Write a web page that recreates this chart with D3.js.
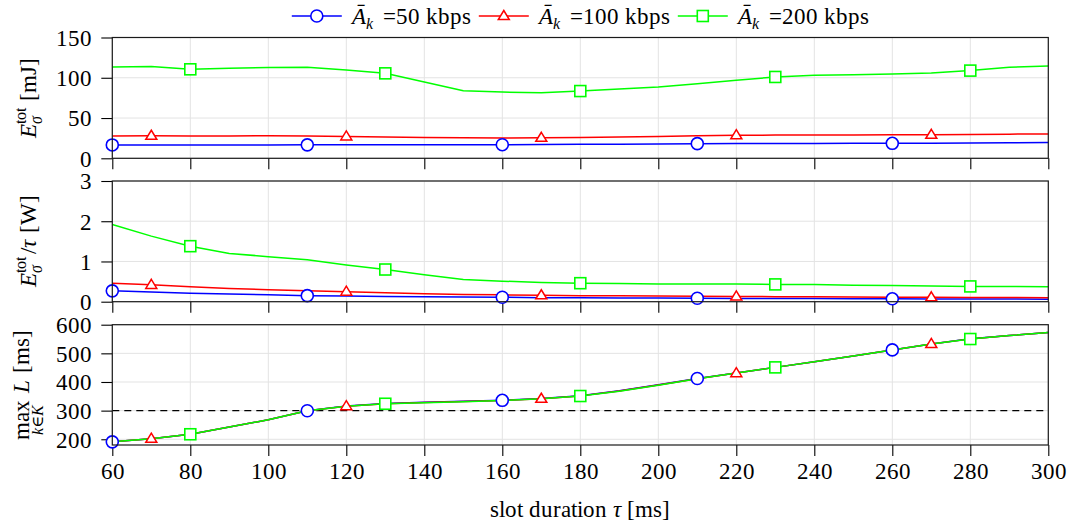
<!DOCTYPE html>
<html><head><meta charset="utf-8">
<script src="https://cdn.jsdelivr.net/npm/d3@7"></script>
<style>
@font-face{font-family:"ChartSerif";font-style:normal;font-weight:400;src:local("Liberation Serif"),local("LiberationSerif"),local("Liberation Serif Regular"),local("LiberationSerif-Regular");}
@font-face{font-family:"ChartSerif";font-style:italic;font-weight:400;src:local("Liberation Serif Italic"),local("LiberationSerif-Italic");}
</style>
</head><body style="margin:0">
<svg id="c" width="1072" height="525"></svg>
<script>
// ---------- data ----------
const tau = [60,70,80,90,100,110,120,130,140,150,160,170,180,190,200,210,220,230,240,250,260,270,280,290,300];
const xTicks = [60,80,100,120,140,160,180,200,220,240,260,280,300];

const energy50  = [16.6,16.6,16.6,16.6,16.6,16.7,16.7,16.8,16.8,16.9,16.9,17.1,17.3,17.6,17.9,18.2,18.3,18.4,18.5,18.6,18.6,18.8,19.0,19.2,19.5];
const energy100 = [27.8,28.0,27.8,27.8,27.9,27.6,27.2,26.5,25.8,25.4,25.3,25.5,25.8,26.5,27.2,28.0,28.7,28.8,28.9,29.0,29.1,29.2,29.6,30.0,30.3];
const energy200 = [113.5,114.0,110.5,111.8,112.6,113.0,109.7,105.5,94.8,83.9,82.3,81.4,83.5,86.0,88.5,92.6,96.8,101.0,103.0,103.9,104.7,106.0,108.9,113.0,114.7];

const power50  = [0.27,0.24,0.21,0.19,0.17,0.15,0.14,0.13,0.12,0.115,0.11,0.10,0.097,0.093,0.09,0.085,0.082,0.08,0.077,0.074,0.072,0.07,0.068,0.066,0.064];
const power100 = [0.46,0.42,0.37,0.33,0.30,0.27,0.25,0.22,0.20,0.18,0.17,0.16,0.15,0.145,0.14,0.135,0.13,0.125,0.12,0.117,0.113,0.11,0.107,0.104,0.10];
const power200 = [1.92,1.63,1.38,1.20,1.12,1.04,0.91,0.80,0.67,0.55,0.51,0.48,0.46,0.45,0.44,0.44,0.44,0.43,0.43,0.41,0.40,0.39,0.38,0.38,0.37];

const latency50  = [191,202,217.5,243,268,299.5,316,325,329,333,336,342,352,369,390,412,431,451,471,491,512,533,551,562,573];
const latency100 = [191,202,217.5,243,268,299.5,315.6,324,328,332,335.5,341.5,351.5,368.5,389.5,411.5,431,451,471,490.7,511.7,532.7,550.5,562,572.6];
const latency200 = [191,202,217.5,243,268,299.5,315.6,324,327.5,331,335.5,341.5,351,368,389,411.5,431,451,471,490.7,511.7,532.7,550,562,572.6];
const latencyTarget = 300;

const markerTau50  = [60,110,160,210,260];
const markerTau100 = [70,120,170,220,270];
const markerTau200 = [80,130,180,230,280];

const rateLabels = ["=50 kbps","=100 kbps","=200 kbps"];
const yTicksEnergy  = [0,50,100,150];
const yTicksPower   = [0,1,2,3];
const yTicksLatency = [200,300,400,500,600];

// ---------- layout ----------
const FONT = '"ChartSerif","Liberation Serif","Nimbus Roman","Times New Roman","DejaVu Serif",serif';
const svg = d3.select("#c");
const FS = 23, SFS = 16;
const x = d3.scaleLinear().domain([60,300]).range([112.3,1048.3]);
const panels = [
  {top:37.5, bottom:158.3, domain:[0,150], ticks:yTicksEnergy, data:[energy50,energy100,energy200], label:'energy'},
  {top:181,  bottom:301.7, domain:[0,3],   ticks:yTicksPower,  data:[power50,power100,power200], label:'power'},
  {top:324.7,bottom:445,   domain:[180,600],ticks:yTicksLatency,data:[latency50,latency100,latency200], label:'latency'}
];
const colors = ["#0000ff","#ff0000","#00ff00"];
const shapes = ["circle","triangle","square"];
const markerTaus = [markerTau50, markerTau100, markerTau200];

function setFont(sel){ return sel.attr("font-family",FONT).style("font-family",FONT); }

function drawMarker(g, shape, color, cx, cy){
  if(shape==="circle"){
    g.append("circle").attr("cx",cx).attr("cy",cy).attr("r",6)
      .attr("fill","#fff").attr("stroke",color).attr("stroke-width",1.6);
  } else if(shape==="square"){
    g.append("rect").attr("x",cx-5.5).attr("y",cy-5.5).attr("width",11).attr("height",11)
      .attr("fill","#fff").attr("stroke",color).attr("stroke-width",1.6);
  } else {
    const s=5.5;
    g.append("path").attr("d",`M${cx},${cy-s}L${cx+s},${cy+s*0.65}L${cx-s},${cy+s*0.65}Z`)
      .attr("fill","#fff").attr("stroke",color).attr("stroke-width",1.5);
  }
}

function mathText(parent, groups){
  const g = parent.append("g");
  let cursor = 0;
  groups.forEach(grp=>{
    if(grp.gap!==undefined){ cursor += grp.gap; return; }
    const els = grp.map(p=>{
      const t = setFont(g.append("text").text(p.t))
        .attr("font-size", p.fs||FS)
        .attr("font-style", p.it?"italic":"normal")
        .attr("y", p.y||0);
      return {t, w:t.node().getComputedTextLength(), p};
    });
    const wmax = d3.max(els, e=>e.w);
    els.forEach(e=>{
      const off = e.p.align==="center" ? (wmax-e.w)/2 : 0;
      e.t.attr("x", cursor+off);
    });
    cursor += wmax;
  });
  return {g, width:cursor};
}

panels.forEach((P,pi)=>{
  const y = d3.scaleLinear().domain(P.domain).range([P.bottom,P.top]);
  const g = svg.append("g");
  g.append("g").selectAll("line").data(xTicks).join("line")
    .attr("x1",d=>x(d)).attr("x2",d=>x(d)).attr("y1",P.top).attr("y2",P.bottom)
    .attr("stroke","#e3e3e3").attr("stroke-width",1);
  g.append("g").selectAll("line").data(P.ticks).join("line")
    .attr("x1",x.range()[0]).attr("x2",x.range()[1]).attr("y1",d=>y(d)).attr("y2",d=>y(d))
    .attr("stroke","#e3e3e3").attr("stroke-width",1);

  const ax = g.append("g").attr("transform",`translate(0,${P.bottom})`)
    .call(d3.axisBottom(x).tickValues(xTicks).tickSize(11).tickSizeOuter(0).tickPadding(7)
      .tickFormat(pi===2?d3.format("d"):()=>""));
  const ay = g.append("g").attr("transform",`translate(${x.range()[0]},0)`)
    .call(d3.axisLeft(y).tickValues(P.ticks).tickSize(11).tickSizeOuter(0).tickPadding(9).tickFormat(d3.format("d")));
  [ax,ay].forEach(a=>{
    setFont(a);
    a.select(".domain").remove();
    a.selectAll(".tick line").attr("stroke","#000").attr("stroke-width",1.1);
    setFont(a.selectAll(".tick text")).attr("font-size",FS).attr("fill","#000");
  });
  ay.selectAll(".tick text").attr("dy","0.34em");

  const plot = g.append("g");
  if(pi===2){
    plot.append("line").attr("x1",x.range()[0]).attr("x2",x.range()[1])
      .attr("y1",y(latencyTarget)).attr("y2",y(latencyTarget))
      .attr("stroke","#000").attr("stroke-width",1.2).attr("stroke-dasharray","7,5");
  }
  const line = d3.line().x((d,i)=>x(tau[i])).y(d=>y(d));
  P.data.forEach((arr,si)=>{
    plot.append("path").attr("d",line(arr)).attr("fill","none")
      .attr("stroke",colors[si]).attr("stroke-width",1.5).attr("stroke-linejoin","round");
  });
  P.data.forEach((arr,si)=>{
    markerTaus[si].forEach(t=>{
      const i = tau.indexOf(t);
      drawMarker(plot, shapes[si], colors[si], x(t), y(arr[i]));
    });
  });

  g.append("rect").attr("x",x.range()[0]).attr("y",P.top)
    .attr("width",x.range()[1]-x.range()[0]).attr("height",P.bottom-P.top)
    .attr("fill","none").attr("stroke","#1a1a1a").attr("stroke-width",1.2);

  const cy = (P.top+P.bottom)/2;
  let groups, bx;
  if(P.label==='energy'){
    groups=[[{t:'E',it:true}],[{t:'tot',fs:SFS,y:-10},{t:'σ',it:true,fs:SFS,y:6}],{gap:7},[{t:'[mJ]'}]];
    bx=36;
  } else if(P.label==='power'){
    groups=[[{t:'E',it:true}],[{t:'tot',fs:SFS,y:-10},{t:'σ',it:true,fs:SFS,y:6}],{gap:3},[{t:'/'}],[{t:'τ',it:true}],{gap:7},[{t:'[W]'}]];
    bx=36;
  } else {
    groups=[[{t:'max'},{t:'k∈K',it:true,fs:SFS,y:14,align:'center'}],{gap:7},[{t:'L',it:true}],{gap:7},[{t:'[ms]'}]];
    bx=29;
  }
  const lg = svg.append("g").attr("transform",`translate(${bx},${cy}) rotate(-90)`);
  const m = mathText(lg, groups);
  m.g.attr("transform",`translate(${-m.width/2},0)`);
});

const xl = setFont(svg.append("text")).attr("x",(x.range()[0]+x.range()[1])/2).attr("y",517)
  .attr("text-anchor","middle").attr("font-size",FS);
xl.append("tspan").text("slot duration ");
xl.append("tspan").attr("font-style","italic").text("τ");
xl.append("tspan").text(" [ms]");

const leg = svg.append("g");
let cur = 0;
rateLabels.forEach((lab,i)=>{
  const it = leg.append("g");
  it.append("line").attr("x1",0).attr("x2",50).attr("y1",0).attr("y2",0)
    .attr("stroke",colors[i]).attr("stroke-width",1.5);
  drawMarker(it, shapes[i], colors[i], 25, 0);
  const tg = it.append("g").attr("transform","translate(60,8)");
  const m = mathText(tg, [[{t:'Ā',it:true}],[{t:'k',it:true,fs:SFS,y:5}],{gap:10},[{t:lab}]]);
  it.attr("transform",`translate(${cur},0)`);
  cur += 60 + m.width + 8;
});
const totalW = cur - 8;
leg.attr("transform",`translate(${(x.range()[0]+x.range()[1])/2 - totalW/2},16)`);
</script>
</body></html>
